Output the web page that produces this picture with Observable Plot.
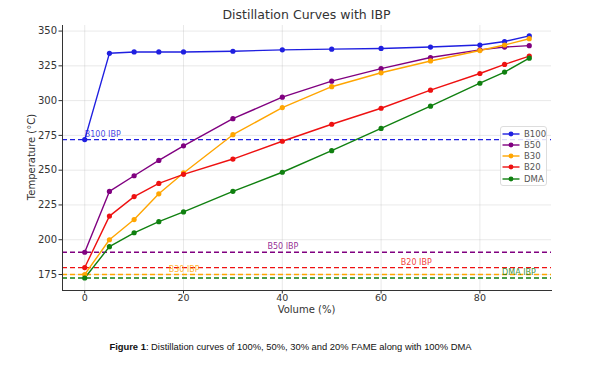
<!DOCTYPE html>
<html>
<head>
<meta charset="utf-8">
<script src="https://cdn.jsdelivr.net/npm/d3@7"></script>
<script src="https://cdn.jsdelivr.net/npm/@observablehq/plot@0.6"></script>
<style>
  html, body { margin: 0; padding: 0; background: #fff; }
  #wrap { position: relative; width: 605px; height: 368px; overflow: hidden; }
  #title { position: absolute; left: 62px; width: 489px; top: 7px; text-align: center;
           font-family: "DejaVu Sans", sans-serif; font-size: 12.5px; color: #333; }
  #chart { position: absolute; left: 0; top: 0; }
  #legend { position: absolute; left: 500px; top: 126px; width: 45px; height: 58px;
            border: 1px solid #ddd; border-radius: 3px; background: rgba(255,255,255,0.85);
            font-family: "DejaVu Sans", sans-serif; font-size: 8.5px; color: #555; }
  .item { position: absolute; left: 1px; height: 11px; display: flex; align-items: center; }
  .item svg { margin-right: 4px; }
  #ylab { position: absolute; left: 31px; top: 157px; transform: translate(-50%,-50%) rotate(-90deg);
          font-family: "DejaVu Sans", sans-serif; font-size: 10px; color: #333; white-space: nowrap; }
  #xlab { position: absolute; left: 62px; width: 489px; top: 304px; text-align: center;
          font-family: "DejaVu Sans", sans-serif; font-size: 10px; color: #333; line-height: 12px; }
  #caption { position: absolute; left: 0; width: 581px; top: 341px; text-align: center;
             font-family: "Liberation Sans", Arial, sans-serif; font-size: 9.4px; color: #111; line-height: 12px; }
</style>
</head>
<body>
<div id="wrap">
  <div id="chart"></div>
  <div id="title">Distillation Curves with IBP</div>
  <div id="ylab">Temperature (°C)</div>
  <div id="xlab">Volume (%)</div>
  <div id="legend"></div>
  <div id="caption"><b>Figure 1</b>: Distillation curves of 100%, 50%, 30% and 20% FAME along with 100% DMA</div>
</div>
<script>
const volume = [0, 5, 10, 15, 20, 30, 40, 50, 60, 70, 80, 85, 90];
const b100 = [272, 334, 335, 335, 335, 335.5, 336.5, 337, 337.5, 338.5, 340, 342.5, 346.5];
const b50  = [191, 234.7, 246, 257, 267.5, 287, 302.5, 314, 323, 331, 336.5, 338.5, 339.5];
const b30  = [175, 200, 214.5, 233, 248, 275.5, 295, 310, 320, 328.5, 336, 340, 344.5];
const b20  = [180, 217, 231, 240.5, 247, 258, 270.8, 283, 294.5, 307.5, 319.5, 326, 332];
const dma  = [172.5, 195, 205, 213, 220, 234.8, 248.5, 264, 280, 296, 312.5, 320.5, 330.5];
const seriesNames = ["B100", "B50", "B30", "B20", "DMA"];
const seriesValues = [b100, b50, b30, b20, dma];
const ibp = [272, 191, 175, 180, 172.5];
const ibpLabelX = [0, 37, 17, 64, 84.5];
const xTicks = [0, 20, 40, 60, 80];
const yTicks = [175, 200, 225, 250, 275, 300, 325, 350];
const colors = ["#1f1fe0", "#800080", "#ffa500", "#ee1111", "#108010"];

const rows = [];
seriesNames.forEach((s, i) => volume.forEach((v, j) => rows.push({series: s, volume: v, temp: seriesValues[i][j]})));
const ibpRows = seriesNames.map((s, i) => ({series: s, ibp: ibp[i], lx: ibpLabelX[i], label: s + " IBP"}));

const chart = Plot.plot({
  width: 605, height: 320,
  marginTop: 25, marginBottom: 30, marginLeft: 62, marginRight: 54,
  style: {fontFamily: "DejaVu Sans, sans-serif", fontSize: "10px", color: "#333", background: "transparent"},
  x: {domain: [-4.5, 94.5], label: null},
  y: {domain: [163.5, 354], label: null},
  color: {domain: seriesNames, range: colors},
  marks: [
    Plot.gridX(xTicks, {stroke: "#b0b0b0", strokeOpacity: 0.35, strokeWidth: 0.8}),
    Plot.gridY(yTicks, {stroke: "#b0b0b0", strokeOpacity: 0.35, strokeWidth: 0.8}),
    Plot.ruleY(ibpRows, {y: "ibp", stroke: "series", strokeDasharray: "5,3", strokeWidth: 1.3}),
    Plot.text(ibpRows, {x: "lx", y: "ibp", text: "label", fill: "series", textAnchor: "start", dy: -5.5, fontSize: 8, fillOpacity: 0.85}),
    Plot.line(rows, {x: "volume", y: "temp", z: "series", stroke: "series", strokeWidth: 1.4}),
    Plot.dot(rows, {x: "volume", y: "temp", fill: "series", r: 2.6}),
    Plot.axisX(xTicks, {tickSize: 3.5, tickPadding: 0, fontSize: 9.5, stroke: "#333", fill: "#333", label: null}),
    Plot.axisY(yTicks, {tickSize: 3.5, tickPadding: 2, stroke: "#333", fill: "#333", label: null}),
    Plot.frame({anchor: "left", stroke: "#333", strokeWidth: 1}),
    Plot.frame({anchor: "bottom", stroke: "#333", strokeWidth: 1})
  ]
});
document.getElementById("chart").appendChild(chart);

const legend = document.getElementById("legend");
seriesNames.forEach((s, i) => {
  const d = document.createElement("div");
  d.className = "item";
  d.style.top = (1 + i * 11.3) + "px";
  d.innerHTML = `<svg width="18" height="8"><line x1="0.5" y1="4" x2="17.5" y2="4" stroke="${colors[i]}" stroke-width="1.4"/><circle cx="9" cy="4" r="2.4" fill="${colors[i]}"/></svg><span>${s}</span>`;
  legend.appendChild(d);
});
</script>
</body>
</html>
